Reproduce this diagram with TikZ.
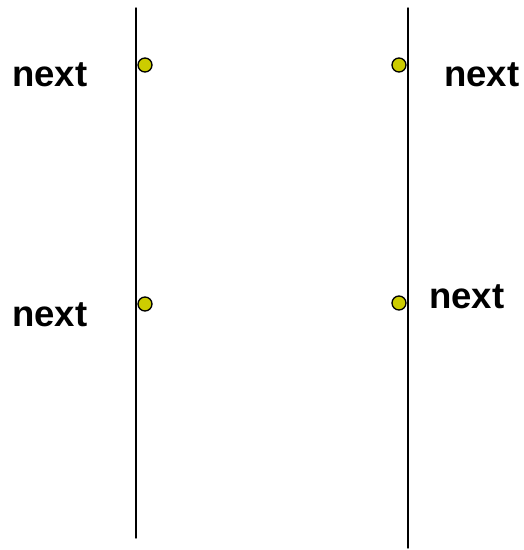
\documentclass[tikz,border=0pt]{standalone}
\usepackage{fontspec}
\setmainfont{Liberation Sans}
\definecolor{dotyellow}{RGB}{204,204,0}
\tikzset{
  lbl/.style={font=\fontsize{36.5}{40}\selectfont\bfseries, inner sep=0pt, anchor=base west},
  dot/.style={circle, draw, line width=1.3pt, fill=dotyellow, minimum size=14pt, inner sep=0pt}
}
\begin{document}
\begin{tikzpicture}[x=1pt, y=-1pt, line join=round, line cap=round]
	\useasboundingbox (0,0) rectangle (524,550);
	\coordinate (lt) at (136,8);
	\coordinate (lb) at (136,538);
	\coordinate (rt) at (408,8);
	\coordinate (rb) at (408,548);
	\draw[line width=1.4pt] (lt) -- (lb);
	\draw[line width=1.4pt] (rt) -- (rb);
	\node[dot] (d1) at (145,65) {};
	\node[dot] (d2) at (145,304) {};
	\node[dot] (d3) at (399,65) {};
	\node[dot] (d4) at (399,303) {};
	\node[lbl] (n1) at (12,86) {next};
	\node[lbl] (n2) at (12,326) {next};
	\node[lbl] (n3) at (444,86) {next};
	\node[lbl] (n4) at (429,308) {next};
\end{tikzpicture}
\end{document}
